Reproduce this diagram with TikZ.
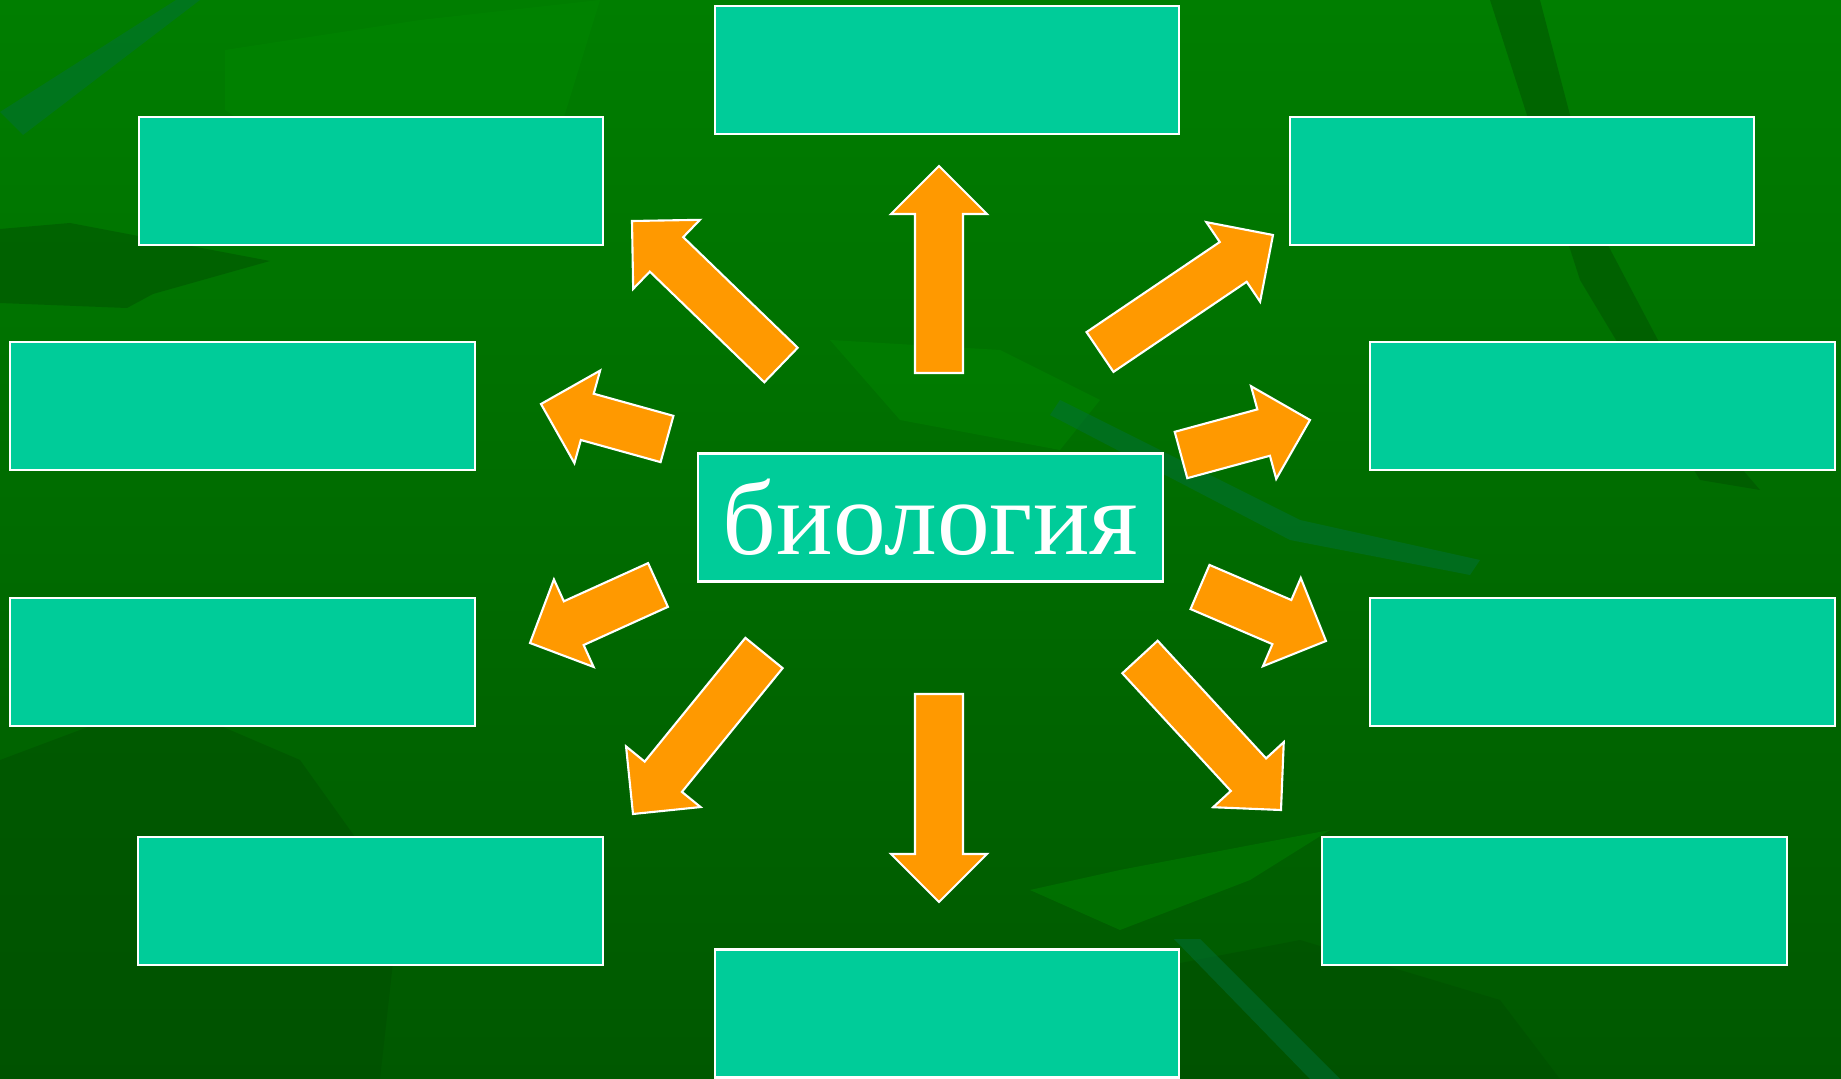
\documentclass[tikz,border=0pt]{standalone}
\usepackage{fontspec}
\setmainfont{Liberation Serif}
\usetikzlibrary{calc}

\definecolor{boxgreen}{HTML}{00CC99}
\definecolor{arroworange}{HTML}{FF9900}
\definecolor{bgtop}{HTML}{007E00}
\definecolor{bgbottom}{HTML}{005800}
\definecolor{leafdark}{HTML}{004C00}
\definecolor{leaflight}{HTML}{008A00}
\definecolor{leafvein}{HTML}{00703A}

% block arrow from tail #1 to tip #2
\newcommand{\bioarrow}[2]{%
  \coordinate (h) at ($(#2)!0.48cm!(#1)$);
  \draw[blockarrow] ($(#1)!0.24cm!90:(#2)$) -- ($(h)!0.24cm!90:(#2)$)
    -- ($(h)!0.48cm!90:(#2)$) -- (#2) -- ($(h)!0.48cm!-90:(#2)$)
    -- ($(h)!0.24cm!-90:(#2)$) -- ($(#1)!0.24cm!-90:(#2)$) -- cycle;
}

\begin{document}
\begin{tikzpicture}[x=0.01cm, y=-0.01cm,
    topic/.style = {draw=white, line width=0.6pt, fill=boxgreen,
      minimum width=4.64cm, minimum height=1.28cm, inner sep=0pt},
    blockarrow/.style = {draw=white, line width=0.6pt, fill=arroworange},
    leaf/.style = {fill=leafdark, opacity=0.45},
    lightleaf/.style = {fill=leaflight, opacity=0.4},
    vein/.style = {fill=leafvein, opacity=0.5}]

  % background
  \shade[top color=bgtop, bottom color=bgbottom] (0,0) rectangle (1841,1079);
  \useasboundingbox (0,0) rectangle (1841,1079);
  \fill[leaf] (0,229) -- (70,223) -- (270,261) -- (153,294) -- (127,308) -- (0,303) -- cycle;
  \fill[vein] (0,112) -- (176,0) -- (200,0) -- (23,135) -- cycle;
  \fill[lightleaf] (225,50) -- (420,20) -- (600,0) -- (560,130) -- (300,160) -- (225,110) -- cycle;
  \fill[leaf] (1490,0) -- (1540,0) -- (1600,230) -- (1700,420) -- (1760,490) -- (1700,480) -- (1580,280) -- cycle;
  \fill[leaf] (1040,990) -- (1300,940) -- (1500,1000) -- (1560,1079) -- (1130,1079) -- cycle;
  \fill[vein] (1174,939) -- (1200,939) -- (1340,1079) -- (1310,1079) -- cycle;
  \fill[lightleaf] (1030,890) -- (1120,930) -- (1250,880) -- (1330,830) -- (1120,870) -- cycle;
  \fill[leaf] (0,760) -- (160,700) -- (300,760) -- (400,900) -- (380,1079) -- (0,1079) -- cycle;
  \fill[lightleaf] (830,340) -- (1000,350) -- (1100,400) -- (1060,450) -- (900,420) -- cycle;
  \fill[vein] (1060,400) -- (1300,520) -- (1480,560) -- (1470,575) -- (1290,540) -- (1050,415) -- cycle;

  % topic boxes
  \node[topic] (top) at (947,70) {};
  \node[topic] (topleft) at (371,181) {};
  \node[topic] (topright) at (1522,181) {};
  \node[topic] (midleft) at (242.5,406) {};
  \node[topic] (midright) at (1602.5,406) {};
  \node[topic] (lowleft) at (242.5,662) {};
  \node[topic] (lowright) at (1602.5,662) {};
  \node[topic] (botleft) at (370.5,901) {};
  \node[topic] (botright) at (1554.5,901) {};
  \node[topic] (bottom) at (947,1013.5) {};
  \node[topic, font=\fontsize{30}{36}\selectfont, text=white] (bio) at (930.5,517.5) {биология};

  % arrow ends
  \coordinate (upA) at (939,373);   \coordinate (upB) at (939,166);
  \coordinate (dnA) at (939,694);   \coordinate (dnB) at (939,902);
  \coordinate (ulA) at (781,365);   \coordinate (ulB) at (632,221);
  \coordinate (urA) at (1100,352);  \coordinate (urB) at (1273,235);
  \coordinate (mlA) at (667,439);   \coordinate (mlB) at (541,404);
  \coordinate (mrA) at (1181,455);  \coordinate (mrB) at (1310,420);
  \coordinate (llA) at (658,585);   \coordinate (llB) at (530,643);
  \coordinate (lrA) at (1200,587);  \coordinate (lrB) at (1326,641);
  \coordinate (blA) at (764,653);   \coordinate (blB) at (633,814);
  \coordinate (brA) at (1140,657);  \coordinate (brB) at (1281,810);

  \bioarrow{upA}{upB}
  \bioarrow{dnA}{dnB}
  \bioarrow{ulA}{ulB}
  \bioarrow{urA}{urB}
  \bioarrow{mlA}{mlB}
  \bioarrow{mrA}{mrB}
  \bioarrow{llA}{llB}
  \bioarrow{lrA}{lrB}
  \bioarrow{blA}{blB}
  \bioarrow{brA}{brB}
\end{tikzpicture}
\end{document}
